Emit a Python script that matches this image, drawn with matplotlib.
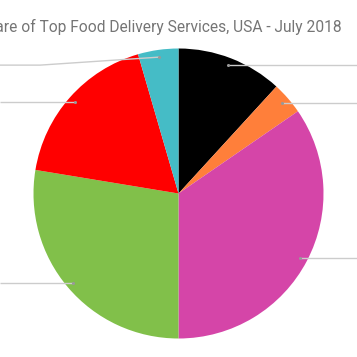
import numpy as np
import matplotlib
matplotlib.use('Agg')
from matplotlib import pyplot as plt

# slices in clockwise order from 12 o'clock
shares = [11.8, 3.6, 34.6, 27.6, 17.9, 4.5]
colors = ['#000000', '#ff7f3a', '#d545a8', '#81c04a', '#ff0000', '#45bcc6']
title = 'Market Share of Top Food Delivery Services, USA - July 2018'

W = H = 357
fig = plt.figure(figsize=(3.57, 3.57), dpi=100)
ax = fig.add_axes([0, 0, 1, 1])

cx, cy, r = 178.5, H - 193.5, 145
wedges, _ = ax.pie(shares, colors=colors, startangle=90, counterclock=False,
                   center=(cx, cy), radius=r, frame=True,
                   wedgeprops=dict(linewidth=0))
ax.set_xlim(0, W)
ax.set_ylim(0, H)
ax.set_aspect('equal')
ax.axis('off')

# leader lines running out to labels beyond the figure edge
for w in wedges:
    mid = np.deg2rad((w.theta1 + w.theta2) / 2)
    px = cx + 0.95 * r * np.cos(mid)
    py = cy + 0.95 * r * np.sin(mid)
    if np.cos(mid) >= 0:
        xs, ys = [px, W], [py, py]
    else:
        ly = py
        if py > cy + 0.9 * r:
            ly = py - 8
        xs, ys = [px, 40, 0], [py, ly, ly]
    ax.plot(xs, ys, color='#cccccc', lw=1, solid_capstyle='butt')
    ax.plot(px, py, 'o', ms=1.2, color='#999999')

fig.text(342 / W, 1 - 27 / H, title, ha='right', va='center',
         fontsize=11.2, color='#757575', family='Roboto')

fig.savefig('out.png', dpi=100)
